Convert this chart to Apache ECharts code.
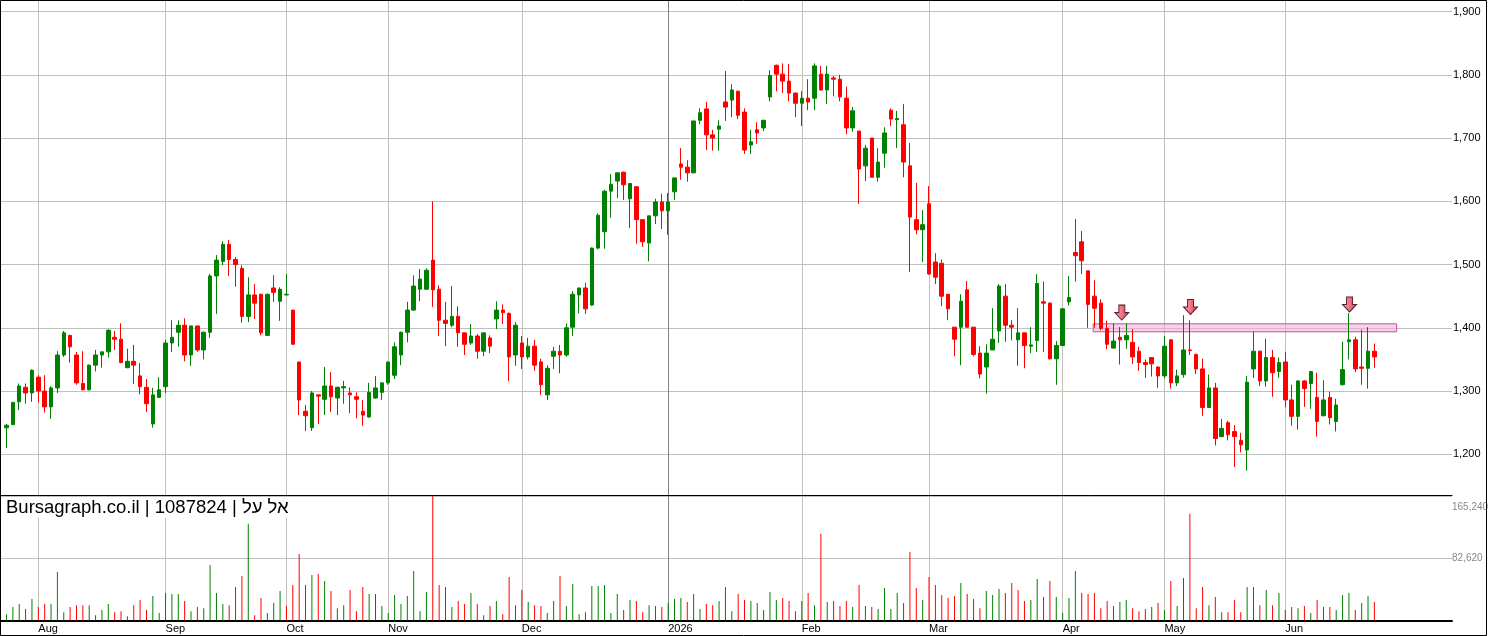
<!DOCTYPE html>
<html>
<head>
<meta charset="utf-8">
<title>Bursagraph 1087824</title>
<script src="https://cdn.jsdelivr.net/npm/echarts@6/dist/echarts.min.js"></script>
<style>
  html, body { margin: 0; padding: 0; background: #fff; }
  #chart { width: 1488px; height: 636px; }
</style>
</head>
<body>
<div id="chart"></div>
<script>
// daily prices, one entry per trading day (index 0 = late July)
const openP = [
  1242,1247,1283,1306,1297,1322,1300,1275,1305,1357, 1388,1357,1312,1302,1341,1357,1362,1385,1382,1337,
  1347,1324,1306,1248,1290,1307,1376,1393,1404,1357, 1403,1365,1393,1482,1505,1532,1508,1494,1418,1452,
  1453,1388,1463,1442,1452,1428,1346,1268,1242,1294, 1287,1308,1289,1305,1297,1291,1268,1259,1289,1298,
  1313,1325,1357,1393,1428,1461,1461,1507,1461,1412, 1404,1418,1392,1376,1387,1363,1384,1414,1428,1423,
  1357,1376,1354,1371,1346,1294,1355,1363,1357,1401, 1452,1463,1436,1526,1552,1616,1632,1646,1604,1623,
  1571,1534,1577,1599,1585,1615,1659,1654,1645,1728, 1746,1705,1714,1757,1760,1774,1741,1689,1713,1716,
  1765,1815,1801,1790,1771,1755,1763,1763,1801,1776, 1795,1793,1763,1716,1711,1656,1700,1638,1676,1744,
  1729,1721,1656,1571,1555,1596,1504,1502,1453,1401, 1401,1460,1401,1360,1338,1365,1395,1450,1404,1381,
  1392,1371,1380,1441,1439,1351,1372,1441,1519,1536, 1490,1450,1439,1399,1368,1385,1381,1377,1363,1345,
  1353,1338,1324,1381,1313,1326,1365,1358,1335,1274, 1305,1228,1250,1236,1222,1207,1335,1363,1316,1353,
  1331,1346,1286,1260,1316,1312,1290,1261,1290,1252, 1310,1378,1381,1338,1336,1363
];
const closeP = [
  1246,1282,1308,1297,1333,1300,1275,1305,1357,1392, 1370,1313,1302,1341,1357,1362,1396,1382,1345,1347,
  1341,1307,1280,1294,1302,1376,1385,1404,1357,1403, 1365,1393,1482,1507,1532,1508,1500,1418,1452,1439,
  1392,1453,1456,1461,1453,1374,1286,1261,1297,1292, 1308,1291,1306,1307,1294,1287,1262,1298,1305,1313,
  1346,1370,1393,1428,1466,1477,1491,1460,1412,1407, 1418,1392,1374,1387,1363,1392,1371,1428,1424,1354,
  1404,1354,1371,1341,1310,1336,1363,1357,1400,1453, 1463,1430,1526,1578,1616,1627,1645,1626,1628,1571,
  1536,1577,1599,1585,1599,1637,1654,1645,1727,1740, 1705,1700,1719,1749,1776,1736,1681,1694,1708,1728,
  1799,1801,1790,1771,1755,1763,1757,1814,1776,1801, 1793,1765,1716,1743,1651,1684,1638,1662,1708,1730,
  1731,1662,1575,1555,1563,1485,1480,1450,1430,1382, 1442,1401,1358,1327,1360,1382,1466,1404,1401,1392,
  1372,1373,1470,1439,1351,1372,1430,1448,1514,1506, 1437,1431,1399,1374,1379,1381,1388,1354,1345,1342,
  1343,1324,1371,1313,1324,1365,1364,1335,1274,1305, 1225,1241,1231,1228,1215,1314,1363,1316,1353,1329,
  1345,1286,1260,1316,1304,1331,1252,1286,1258,1278, 1334,1381,1335,1336,1363,1354
];
const lowP = [
  1210,1246,1270,1280,1283,1282,1266,1256,1297,1354, 1345,1310,1301,1301,1331,1337,1353,1365,1344,1336,
  1311,1295,1267,1242,1289,1297,1362,1370,1347,1340, 1362,1350,1384,1422,1499,1482,1465,1408,1409,1414,
  1388,1388,1441,1411,1451,1374,1262,1237,1237,1248, 1262,1267,1262,1280,1265,1257,1245,1258,1288,1286,
  1310,1319,1341,1377,1427,1442,1460,1433,1387,1371, 1401,1370,1357,1373,1351,1355,1360,1398,1406,1316,
  1340,1335,1350,1332,1294,1286,1335,1328,1354,1387, 1423,1422,1435,1524,1525,1574,1605,1602,1558,1533,
  1528,1505,1564,1556,1547,1602,1634,1631,1644,1722, 1681,1680,1680,1727,1733,1730,1675,1675,1691,1711,
  1758,1774,1771,1758,1733,1719,1744,1744,1775,1754, 1766,1758,1706,1710,1596,1632,1638,1631,1653,1719,
  1684,1638,1488,1548,1504,1484,1469,1434,1412,1355, 1341,1400,1355,1320,1296,1365,1376,1378,1380,1340,
  1336,1360,1362,1362,1350,1310,1371,1435,1473,1485, 1400,1400,1396,1366,1367,1342,1367,1343,1332,1321,
  1323,1305,1320,1304,1308,1321,1357,1327,1261,1273, 1214,1227,1222,1180,1203,1174,1321,1308,1307,1291,
  1321,1274,1245,1239,1275,1272,1228,1260,1247,1236, 1309,1350,1330,1310,1304,1337
];
const highP = [
  1248,1283,1312,1312,1334,1325,1325,1308,1363,1395, 1389,1362,1363,1342,1365,1362,1398,1395,1407,1367,
  1373,1344,1319,1305,1322,1381,1412,1412,1415,1403, 1403,1394,1485,1515,1537,1539,1512,1499,1480,1469,
  1454,1454,1483,1464,1485,1428,1346,1278,1300,1294, 1338,1330,1307,1316,1306,1298,1286,1313,1324,1313,
  1346,1377,1394,1441,1483,1493,1494,1600,1467,1441, 1466,1434,1392,1406,1390,1392,1388,1442,1437,1424,
  1409,1387,1384,1381,1351,1341,1370,1373,1407,1458, 1463,1471,1527,1581,1618,1643,1645,1647,1629,1623,
  1571,1577,1604,1612,1613,1637,1684,1665,1727,1747, 1757,1713,1728,1806,1785,1775,1747,1713,1725,1729,
  1807,1816,1818,1817,1772,1774,1793,1818,1814,1814, 1798,1800,1781,1749,1711,1689,1700,1684,1717,1747,
  1743,1754,1692,1629,1586,1624,1518,1508,1453,1401, 1453,1474,1401,1371,1374,1431,1469,1469,1412,1431,
  1392,1401,1485,1473,1440,1379,1431,1482,1572,1553, 1490,1475,1445,1411,1407,1401,1407,1398,1370,1350,
  1353,1339,1387,1381,1334,1420,1412,1359,1351,1326, 1313,1256,1253,1246,1234,1324,1394,1364,1383,1365,
  1353,1362,1310,1317,1317,1331,1329,1317,1299,1288, 1378,1423,1386,1397,1401,1375
];
const volumes = [
  8400,17800,21800,15100,28400,17800,21800,21800,64400,11100, 17800,20400,20400,20400,7100,13800,21800,11100,12400,5800,
  20400,27100,13800,32400,9800,36400,35100,35100,25800,12400, 17800,16400,73700,36400,21800,20400,44400,59000,128300,7100,
  29700,9800,23100,39000,19100,47000,88400,47000,60400,61700, 52400,39000,16400,20400,40400,12400,44400,35100,35100,19100,
  9800,33700,21800,32400,65700,12400,37700,165600,47000,44400, 17800,25800,21800,36400,21800,7100,19100,25800,8400,57700,
  20400,40400,24400,20400,19100,9800,25800,59000,19100,48400, 8400,11100,45700,45700,47000,9800,35100,13800,27100,25800,
  11100,20400,19100,17800,23100,28400,29700,24400,35100,15100, 21800,20400,25800,44400,12400,35100,27100,25800,23100,13800,
  37700,27100,29700,25800,12400,25800,36400,20400,115000,24400, 25800,19100,25800,17800,47000,19100,17800,15100,43000,15100,
  36400,23100,91000,43000,27100,57700,47000,33700,29700,32400, 49700,35100,28400,16400,39000,33700,41700,36400,49700,40400,
  25800,27100,55000,31100,52400,31100,9800,29700,65700,36400, 35100,36400,16400,25800,19100,24400,27100,16400,12400,15100,
  17800,23100,13800,52400,19100,56400,141600,16400,44400,20400, 31100,11100,11100,27100,11100,44400,44400,20400,40400,20400,
  36400,13800,17800,16400,19100,9800,27100,17800,17800,13800, 33700,36400,13800,23100,32400,24400
];

// month boundaries on the day index
const monthIdx = [5, 25, 44, 60, 81, 104, 125, 145, 166, 182, 201];
const monthNames = ['Aug', 'Sep', 'Oct', 'Nov', 'Dec', '2026', 'Feb', 'Mar', 'Apr', 'May', 'Jun'];

// resistance zone and the three signal arrows
const zoneIdx = [170.8, 218.5];
const zonePrice = [1406.3, 1393.7];
const arrowIdx = [175.3, 186.1, 211.1];
const arrowPrice = [1424, 1433, 1437];

const UP = '#008000';
const DOWN = '#ff0000';
const GRID_GREY = '#c4c0b8';

const fmt = v => Math.round(v).toLocaleString('en-US');

const stockName = 'אל על';

const candles = openP.map((o, i) => [i, o, closeP[i], lowP[i], highP[i]]);
const volBars = volumes.map((v, i) => {
  const prev = i > 0 ? closeP[i - 1] : openP[i];
  return { value: [i, v], itemStyle: { color: closeP[i] >= prev ? UP : DOWN } };
});

const splitColors = monthNames.map(n => (n === '2026' ? '#808080' : GRID_GREY));

const xRange = { min: -1.022, max: 227.2 };

const chart = echarts.init(document.getElementById('chart'));

chart.setOption({
  animation: false,
  backgroundColor: '#fff',
  textStyle: { fontFamily: 'Arial, "Liberation Sans", sans-serif' },
  title: {
    text: 'Bursagraph.co.il | 1087824 | ' + stockName,
    left: 2,
    top: 497,
    padding: [1, 4, 1, 4],
    backgroundColor: '#fff',
    textStyle: {
      fontSize: 18.5,
      fontWeight: 'normal',
      color: '#000',
      fontFamily: 'Arial, "Liberation Sans", sans-serif'
    },
    z: 10
  },
  grid: [
    { left: 0, top: 0, width: 1452, height: 495, outerBoundsMode: 'none' },
    { left: 0, top: 496, width: 1452, height: 124.5, outerBoundsMode: 'none' }
  ],
  xAxis: [
    {
      type: 'value',
      gridIndex: 0,
      min: xRange.min,
      max: xRange.max,
      axisLine: { show: true, onZero: false, lineStyle: { color: '#000', width: 1 } },
      axisTick: { show: false, customValues: monthIdx },
      axisLabel: { show: false },
      splitLine: { show: true, lineStyle: { color: splitColors, width: 1 } }
    },
    {
      type: 'value',
      gridIndex: 1,
      min: xRange.min,
      max: xRange.max,
      axisLine: { show: true, onZero: false, lineStyle: { color: '#000', width: 2 } },
      axisTick: { show: false, customValues: monthIdx },
      axisLabel: {
        show: true,
        customValues: monthIdx,
        align: 'left',
        margin: 3,
        fontSize: 11,
        color: '#000',
        formatter: v => monthNames[monthIdx.indexOf(Math.round(v))] || ''
      },
      splitLine: { show: true, lineStyle: { color: splitColors, width: 1 } }
    }
  ],
  yAxis: [
    {
      type: 'value',
      gridIndex: 0,
      position: 'right',
      min: 1135.7,
      max: 1918.2,
      splitNumber: 8,
      axisLine: { show: false },
      axisTick: { show: false },
      axisLabel: {
        margin: 1,
        fontSize: 11,
        color: '#000',
        showMinLabel: false,
        showMaxLabel: false,
        formatter: v => fmt(v)
      },
      splitLine: { show: true, lineStyle: { color: '#c0c0c0', width: 1 } }
    },
    {
      type: 'value',
      gridIndex: 1,
      position: 'right',
      min: 0,
      max: 165240,
      interval: 82620,
      axisLine: { show: false },
      axisTick: { show: false },
      axisLabel: {
        margin: 0,
        fontSize: 10,
        color: '#888',
        showMinLabel: false,
        formatter: v => (v === 165240 ? '{lo|' + fmt(v) + '}' : fmt(v)),
        rich: { lo: { fontSize: 10, color: '#888', padding: [22, 0, 0, 0] } }
      },
      splitLine: { show: true, lineStyle: { color: '#c0c0c0', width: 1 } }
    }
  ],
  series: [
    {
      name: 'price',
      type: 'candlestick',
      xAxisIndex: 0,
      yAxisIndex: 0,
      barWidth: 4,
      encode: { x: 0, y: [1, 2, 3, 4] },
      data: candles,
      itemStyle: {
        color: UP,
        color0: DOWN,
        borderColor: UP,
        borderColor0: DOWN,
        borderWidth: 1
      },
      markArea: {
        silent: true,
        itemStyle: {
          color: 'rgba(240, 170, 215, 0.55)',
          borderColor: '#c850a8',
          borderWidth: 1
        },
        data: [[
          { coord: [zoneIdx[0], zonePrice[0]] },
          { coord: [zoneIdx[1], zonePrice[1]] }
        ]]
      },
      markPoint: {
        silent: true,
        symbol: 'path://M4,0L10,0L10,7L14,7L7,14L0,7L4,7Z',
        symbolSize: [14, 15],
        label: { show: false },
        itemStyle: {
          color: new echarts.graphic.LinearGradient(0, 0, 1, 0, [
            { offset: 0, color: '#ffb0bc' },
            { offset: 1, color: '#e0384e' }
          ]),
          borderColor: '#5a2030',
          borderWidth: 1
        },
        data: arrowIdx.map((x, k) => ({ coord: [x, arrowPrice[k]] }))
      }
    },
    {
      name: 'volume',
      type: 'bar',
      xAxisIndex: 1,
      yAxisIndex: 1,
      barWidth: 1,
      data: volBars
    }
  ],
  graphic: [
    {
      type: 'rect',
      silent: true,
      z: 100,
      shape: { x: 0.5, y: 0.5, width: 1486, height: 635 },
      style: { fill: 'none', stroke: '#000', lineWidth: 1 }
    }
  ]
});
</script>
</body>
</html>
